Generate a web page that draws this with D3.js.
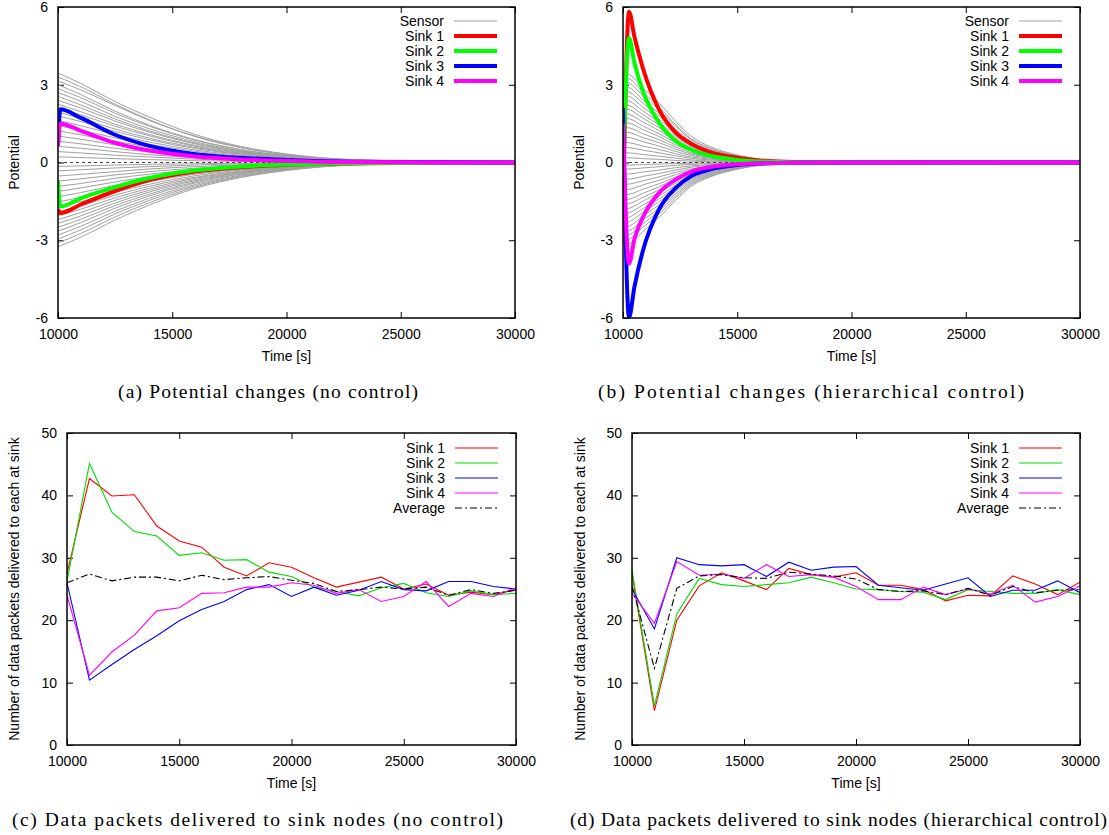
<!DOCTYPE html>
<html>
<head>
<meta charset="utf-8">
<title>Potential and packets</title>
<style>
  body { margin: 0; background: #fff; }
  svg { display: block; }
  text { font-family: "Liberation Sans", Arial, sans-serif; font-size: 14px; fill: #000; }
  .caption { font-family: "Liberation Serif", "Times New Roman", serif; font-size: 19.5px; }
</style>
</head>
<body>
<div id="chart"></div>
<script src="https://d3js.org/d3.v7.min.js"></script>
<script>
// ---- data ----
const sinkNames = ["Sink 1", "Sink 2", "Sink 3", "Sink 4"];
const potTicksX = [10000, 15000, 20000, 25000, 30000];
const potTicksY = [-6, -3, 0, 3, 6];
const pktTicksY = [0, 10, 20, 30, 40, 50];

// (a) no control: sensor potentials
const sensorTimesA = [10000, 11000, 12500, 14000, 16000, 18000, 20000, 23000, 30000];
const sensorsA = [
  [3.45, 3.05, 2.35, 1.75, 1.08, 0.62, 0.33, 0.11, 0],
  [3.30, 2.92, 2.25, 1.65, 1.00, 0.57, 0.30, 0.10, 0],
  [3.15, 2.80, 2.20, 1.62, 1.02, 0.59, 0.31, 0.10, 0],
  [3.00, 2.62, 1.98, 1.44, 0.88, 0.50, 0.27, 0.09, 0],
  [2.85, 2.50, 1.90, 1.40, 0.86, 0.49, 0.26, 0.08, 0],
  [2.70, 2.36, 1.78, 1.30, 0.80, 0.45, 0.24, 0.08, 0],
  [2.55, 2.22, 1.68, 1.22, 0.75, 0.43, 0.23, 0.07, 0],
  [2.40, 2.10, 1.60, 1.17, 0.72, 0.41, 0.22, 0.07, 0],
  [2.25, 1.96, 1.48, 1.08, 0.66, 0.38, 0.20, 0.06, 0],
  [2.10, 1.84, 1.40, 1.03, 0.63, 0.36, 0.19, 0.06, 0],
  [1.95, 1.70, 1.29, 0.94, 0.58, 0.33, 0.18, 0.06, 0],
  [1.80, 1.58, 1.20, 0.88, 0.54, 0.31, 0.16, 0.05, 0],
  [1.62, 1.42, 1.08, 0.79, 0.48, 0.28, 0.15, 0.05, 0],
  [1.42, 1.25, 0.95, 0.70, 0.43, 0.24, 0.13, 0.04, 0],
  [1.22, 1.07, 0.82, 0.60, 0.37, 0.21, 0.11, 0.04, 0],
  [1.02, 0.90, 0.68, 0.50, 0.31, 0.17, 0.09, 0.03, 0],
  [0.82, 0.72, 0.55, 0.40, 0.25, 0.14, 0.07, 0.02, 0],
  [0.62, 0.55, 0.42, 0.30, 0.19, 0.11, 0.06, 0.02, 0],
  [0.42, 0.37, 0.28, 0.21, 0.13, 0.07, 0.04, 0.01, 0],
  [0.22, 0.19, 0.15, 0.11, 0.07, 0.04, 0.02, 0.01, 0],
  [-3.25, -2.88, -2.22, -1.64, -1.00, -0.58, -0.31, -0.10, 0],
  [-3.10, -2.74, -2.10, -1.55, -0.95, -0.55, -0.29, -0.09, 0],
  [-2.95, -2.60, -1.98, -1.46, -0.90, -0.52, -0.27, -0.09, 0],
  [-2.80, -2.46, -1.88, -1.38, -0.85, -0.49, -0.26, -0.08, 0],
  [-2.65, -2.32, -1.76, -1.29, -0.79, -0.45, -0.24, -0.08, 0],
  [-2.50, -2.19, -1.66, -1.22, -0.75, -0.43, -0.23, -0.07, 0],
  [-2.35, -2.06, -1.56, -1.14, -0.70, -0.40, -0.21, -0.07, 0],
  [-2.20, -1.93, -1.46, -1.07, -0.66, -0.38, -0.20, -0.06, 0],
  [-2.05, -1.80, -1.36, -1.00, -0.61, -0.35, -0.19, -0.06, 0],
  [-1.90, -1.67, -1.26, -0.92, -0.57, -0.33, -0.17, -0.05, 0],
  [-1.72, -1.51, -1.14, -0.84, -0.51, -0.29, -0.16, -0.05, 0],
  [-1.52, -1.34, -1.01, -0.74, -0.45, -0.26, -0.14, -0.04, 0],
  [-1.32, -1.16, -0.88, -0.64, -0.39, -0.22, -0.12, -0.04, 0],
  [-1.12, -0.98, -0.75, -0.55, -0.34, -0.19, -0.10, -0.03, 0],
  [-0.92, -0.81, -0.61, -0.45, -0.28, -0.16, -0.08, -0.03, 0],
  [-0.72, -0.63, -0.48, -0.35, -0.22, -0.12, -0.07, -0.02, 0],
  [-0.52, -0.46, -0.35, -0.25, -0.16, -0.09, -0.05, -0.02, 0],
  [-0.32, -0.28, -0.21, -0.16, -0.10, -0.05, -0.03, -0.01, 0],
  [-0.15, -0.13, -0.10, -0.07, -0.05, -0.03, -0.01, 0, 0]
];
// (a) sink potentials
const sinkTimesA = [10000, 10100, 11000, 12500, 14000, 16000, 18000, 20000, 23000, 30000];
const sink1A = [-1.80, -1.95, -1.62, -1.10, -0.68, -0.35, -0.18, -0.09, -0.03, 0];
const sink2A = [-0.70, -1.70, -1.38, -0.95, -0.60, -0.30, -0.15, -0.08, -0.02, 0];
const sink3A = [0.65, 2.05, 1.72, 1.07, 0.64, 0.32, 0.18, 0.10, 0.03, 0];
const sink4A = [0.65, 1.50, 1.22, 0.76, 0.46, 0.23, 0.12, 0.06, 0.02, 0];

// (b) hierarchical control: sensor potentials
const sensorTimesB = [10000, 10300, 10850, 11600, 12300, 13000, 13800, 15000, 16000, 17500, 30000];
const sensorsB = [
  [3.45, 3.38, 2.90, 2.28, 1.59, 1.00, 0.62, 0.29, 0.12, 0.03, 0],
  [3.30, 3.22, 2.74, 2.12, 1.46, 0.91, 0.56, 0.26, 0.11, 0.03, 0],
  [3.12, 3.05, 2.60, 2.02, 1.40, 0.87, 0.54, 0.25, 0.10, 0.03, 0],
  [2.95, 2.88, 2.44, 1.88, 1.29, 0.80, 0.49, 0.23, 0.09, 0.03, 0],
  [2.78, 2.71, 2.30, 1.78, 1.22, 0.76, 0.47, 0.22, 0.09, 0.02, 0],
  [2.60, 2.54, 2.15, 1.66, 1.14, 0.71, 0.44, 0.20, 0.08, 0.02, 0],
  [2.42, 2.36, 2.00, 1.55, 1.06, 0.66, 0.41, 0.19, 0.08, 0.02, 0],
  [2.25, 2.19, 1.86, 1.44, 0.99, 0.62, 0.38, 0.18, 0.07, 0.02, 0],
  [2.08, 2.03, 1.72, 1.33, 0.91, 0.57, 0.35, 0.16, 0.07, 0.02, 0],
  [1.90, 1.85, 1.57, 1.22, 0.84, 0.52, 0.32, 0.15, 0.06, 0.02, 0],
  [1.72, 1.68, 1.42, 1.10, 0.76, 0.47, 0.29, 0.14, 0.06, 0.02, 0],
  [1.55, 1.51, 1.28, 0.99, 0.68, 0.43, 0.26, 0.12, 0.05, 0.01, 0],
  [1.36, 1.33, 1.12, 0.87, 0.60, 0.37, 0.23, 0.11, 0.04, 0.01, 0],
  [1.18, 1.15, 0.97, 0.76, 0.52, 0.32, 0.20, 0.09, 0.04, 0.01, 0],
  [0.98, 0.96, 0.81, 0.63, 0.43, 0.27, 0.17, 0.08, 0.03, 0.01, 0],
  [0.78, 0.76, 0.64, 0.50, 0.34, 0.21, 0.13, 0.06, 0.03, 0.01, 0],
  [0.58, 0.57, 0.48, 0.37, 0.26, 0.16, 0.10, 0.05, 0.02, 0, 0],
  [0.38, 0.37, 0.31, 0.24, 0.17, 0.10, 0.06, 0.03, 0.01, 0, 0],
  [0.18, 0.18, 0.15, 0.12, 0.08, 0.05, 0.03, 0.01, 0, 0, 0],
  [-3.20, -3.13, -2.68, -2.10, -1.46, -0.91, -0.56, -0.26, -0.11, -0.03, 0],
  [-3.02, -2.95, -2.52, -1.97, -1.37, -0.85, -0.53, -0.25, -0.10, -0.03, 0],
  [-2.85, -2.78, -2.38, -1.86, -1.29, -0.80, -0.50, -0.23, -0.09, -0.03, 0],
  [-2.68, -2.62, -2.24, -1.75, -1.21, -0.75, -0.47, -0.22, -0.09, -0.02, 0],
  [-2.50, -2.44, -2.08, -1.62, -1.12, -0.70, -0.43, -0.20, -0.08, -0.02, 0],
  [-2.32, -2.27, -1.93, -1.50, -1.04, -0.65, -0.40, -0.19, -0.08, -0.02, 0],
  [-2.15, -2.10, -1.79, -1.39, -0.96, -0.60, -0.37, -0.17, -0.07, -0.02, 0],
  [-1.98, -1.93, -1.65, -1.28, -0.89, -0.55, -0.34, -0.16, -0.06, -0.02, 0],
  [-1.80, -1.76, -1.50, -1.16, -0.80, -0.50, -0.31, -0.14, -0.06, -0.02, 0],
  [-1.62, -1.58, -1.35, -1.05, -0.72, -0.45, -0.28, -0.13, -0.05, -0.01, 0],
  [-1.44, -1.41, -1.20, -0.93, -0.64, -0.40, -0.25, -0.12, -0.05, -0.01, 0],
  [-1.25, -1.22, -1.04, -0.81, -0.56, -0.35, -0.21, -0.10, -0.04, -0.01, 0],
  [-1.05, -1.03, -0.87, -0.68, -0.47, -0.29, -0.18, -0.08, -0.03, -0.01, 0],
  [-0.85, -0.83, -0.71, -0.55, -0.38, -0.24, -0.15, -0.07, -0.03, -0.01, 0],
  [-0.65, -0.64, -0.54, -0.42, -0.29, -0.18, -0.11, -0.05, -0.02, -0.01, 0],
  [-0.45, -0.44, -0.37, -0.29, -0.20, -0.13, -0.08, -0.04, -0.02, 0, 0],
  [-0.25, -0.25, -0.21, -0.16, -0.11, -0.07, -0.04, -0.02, -0.01, 0, 0],
  [-0.10, -0.10, -0.08, -0.06, -0.04, -0.03, -0.02, -0.01, 0, 0, 0]
];
// (b) sink potentials
const sinkTimesB = [10000, 10264, 10500, 10850, 11580, 12320, 13050, 13780, 15000, 16000, 17500, 30000];
const sink1B = [-1.95, 5.82, 4.85, 3.70, 2.04, 1.14, 0.69, 0.41, 0.18, 0.08, 0.02, 0];
const sink2B = [-0.75, 4.80, 3.85, 2.80, 1.53, 0.82, 0.47, 0.27, 0.10, 0.04, 0.01, 0];
const sink3B = [2.10, -5.97, -4.80, -3.47, -1.80, -0.97, -0.49, -0.27, -0.10, -0.04, -0.01, 0];
const sink4B = [1.50, -3.90, -2.95, -2.15, -1.17, -0.65, -0.33, -0.18, -0.07, -0.03, -0.01, 0];

// (c)/(d) packets delivered, sampled every 1000 s
const pktTimes = [10000, 11000, 12000, 13000, 14000, 15000, 16000, 17000, 18000, 19000, 20000,
                  21000, 22000, 23000, 24000, 25000, 26000, 27000, 28000, 29000, 30000];
const sink1C = [27.5, 42.7, 39.9, 40.1, 35.1, 32.7, 31.7, 28.5, 27.1, 29.2, 28.5, 26.8, 25.3, 26.1, 26.9, 25.0, 25.8, 24.0, 24.5, 24.1, 24.9];
const sink2C = [26.2, 45.1, 37.3, 34.2, 33.5, 30.4, 30.8, 29.6, 29.7, 27.7, 27.0, 25.3, 24.6, 23.9, 25.2, 25.9, 24.4, 23.8, 24.7, 24.1, 24.3];
const sink3C = [26.0, 10.4, 12.9, 15.3, 17.5, 19.9, 21.7, 23.0, 24.9, 25.7, 23.8, 25.3, 24.0, 24.8, 26.2, 24.9, 24.7, 26.2, 26.2, 25.4, 25.0];
const sink4C = [24.0, 11.2, 14.9, 17.6, 21.5, 22.0, 24.3, 24.4, 25.3, 25.3, 26.0, 25.6, 24.3, 24.9, 23.0, 23.8, 26.2, 22.2, 24.3, 23.8, 25.2];
const avgC   = [26.0, 27.4, 26.3, 26.9, 26.9, 26.3, 27.2, 26.5, 26.8, 27.0, 26.4, 25.9, 24.6, 24.9, 25.3, 25.0, 25.3, 24.0, 24.9, 24.3, 24.8];

const sink1D = [27.5, 5.5, 20.0, 25.5, 27.6, 26.3, 24.9, 28.3, 27.3, 26.9, 27.6, 25.6, 25.6, 24.9, 23.1, 24.0, 23.9, 27.1, 25.8, 24.1, 26.1];
const sink2D = [28.0, 6.3, 21.0, 26.7, 25.7, 25.4, 25.7, 26.0, 26.9, 26.0, 25.0, 24.9, 24.6, 24.5, 23.3, 24.9, 24.6, 24.3, 24.3, 24.9, 24.1];
const sink3D = [25.0, 18.6, 30.0, 28.9, 28.7, 28.9, 27.0, 29.3, 28.0, 28.5, 28.6, 25.6, 25.2, 24.8, 25.8, 26.8, 23.8, 24.8, 24.8, 26.3, 24.4];
const sink4D = [24.3, 19.5, 29.4, 27.2, 27.4, 26.7, 28.9, 27.0, 27.3, 26.9, 25.4, 23.3, 23.3, 25.3, 24.1, 25.0, 24.2, 25.6, 22.9, 23.8, 25.5];
const avgD   = [25.5, 12.3, 25.1, 27.1, 27.3, 26.8, 26.7, 27.7, 27.4, 27.1, 26.6, 24.9, 24.6, 24.7, 24.1, 25.1, 24.0, 25.4, 24.4, 24.8, 24.9];

// ---- drawing ----
const sinkColThick = ["#ff0000", "#00ff00", "#0000ff", "#ff00ff"];
const sinkColThin = ["#ff0000", "#00dd00", "#0000ff", "#ff00ff"];
const sensorCol = "#a0a0a0";

const svg = d3.select("#chart").append("svg")
  .attr("width", 1109)
  .attr("height", 835);

let clipId = 0;

function panel(box, yDomain, yTicks, yLabel, caption) {
  const x = d3.scaleLinear().domain([10000, 30000]).range([box.left, box.right]);
  const y = d3.scaleLinear().domain(yDomain).range([box.bottom, box.top]);
  const g = svg.append("g");

  const id = "clip" + (clipId++);
  svg.append("clipPath").attr("id", id).append("rect")
    .attr("x", box.left).attr("y", box.top)
    .attr("width", box.right - box.left).attr("height", box.bottom - box.top);

  // inward ticks on all four sides, gnuplot style
  const fmt = d => String(d);
  g.append("g").attr("transform", `translate(0,${box.bottom})`)
    .call(d3.axisBottom(x).tickValues(potTicksX).tickSizeInner(-6).tickSizeOuter(0).tickPadding(11).tickFormat(fmt));
  g.append("g").attr("transform", `translate(0,${box.top})`)
    .call(d3.axisTop(x).tickValues(potTicksX).tickSizeInner(-6).tickSizeOuter(0).tickFormat(""));
  g.append("g").attr("transform", `translate(${box.left},0)`)
    .call(d3.axisLeft(y).tickValues(yTicks).tickSizeInner(-6).tickSizeOuter(0).tickPadding(10).tickFormat(fmt));
  g.append("g").attr("transform", `translate(${box.right},0)`)
    .call(d3.axisRight(y).tickValues(yTicks).tickSizeInner(-6).tickSizeOuter(0).tickFormat(""));
  g.selectAll(".domain").remove();
  g.selectAll(".tick line").attr("stroke", "#000").attr("stroke-width", 1);
  g.selectAll(".tick text").attr("font-size", 14).attr("font-family", "Liberation Sans, Arial, sans-serif").attr("fill", "#000");

  const plot = svg.append("g").attr("clip-path", `url(#${id})`);

  // border on top of everything
  const border = svg.append("g");
  border.append("rect")
    .attr("x", box.left).attr("y", box.top)
    .attr("width", box.right - box.left).attr("height", box.bottom - box.top)
    .attr("fill", "none").attr("stroke", "#000").attr("stroke-width", 1.5);

  svg.append("text")
    .attr("x", (box.left + box.right) / 2).attr("y", box.bottom + 43)
    .attr("text-anchor", "middle").text("Time [s]");
  svg.append("text")
    .attr("transform", `translate(${box.ylabelX},${(box.top + box.bottom) / 2}) rotate(-90)`)
    .attr("text-anchor", "middle").attr("dominant-baseline", "central").text(yLabel);
  svg.append("text").attr("class", "caption")
    .attr("x", box.capX0).attr("y", box.capY)
    .attr("textLength", box.capX1 - box.capX0).attr("lengthAdjust", "spacing")
    .text(caption);

  return { x, y, plot, legend: svg.append("g") };
}

function legend(p, box, items, dy0) {
  items.forEach((it, i) => {
    const yy = box.top + dy0 + i * 15;
    p.legend.append("text")
      .attr("x", box.right - 71).attr("y", yy)
      .attr("text-anchor", "end").attr("dominant-baseline", "central")
      .text(it.name);
    p.legend.append("line")
      .attr("x1", box.right - 61).attr("x2", box.right - 18)
      .attr("y1", yy).attr("y2", yy)
      .attr("stroke", it.color).attr("stroke-width", it.width)
      .attr("stroke-dasharray", it.dash || null);
  });
}

function potentialPanel(box, caption, sensorTimes, sensors, sinkTimes, sinks) {
  const p = panel(box, [-6, 6], potTicksY, "Potential", caption);
  const line = d3.line().x(d => p.x(d[0])).y(d => p.y(d[1])).curve(d3.curveMonotoneX);

  p.plot.selectAll(".sensor").data(sensors).enter().append("path")
    .attr("d", s => line(sensorTimes.map((t, i) => [t, s[i]])))
    .attr("fill", "none").attr("stroke", sensorCol).attr("stroke-width", 1);

  // zero axis
  p.plot.append("line")
    .attr("x1", box.left).attr("x2", box.right)
    .attr("y1", p.y(0)).attr("y2", p.y(0))
    .attr("stroke", "#444").attr("stroke-width", 1).attr("stroke-dasharray", "3,3");

  sinks.forEach((s, k) => {
    p.plot.append("path")
      .attr("d", line(sinkTimes.map((t, i) => [t, s[i]])))
      .attr("fill", "none").attr("stroke", sinkColThick[k]).attr("stroke-width", 4)
      .attr("stroke-linejoin", "round");
  });

  legend(p, box, [{ name: "Sensor", color: sensorCol, width: 1 }]
    .concat(sinkNames.map((n, k) => ({ name: n, color: sinkColThick[k], width: 4 }))), 14);
}

function packetPanel(box, caption, sinks, avg) {
  const p = panel(box, [0, 50], pktTicksY, "Number of data packets delivered to each at sink", caption);
  const line = d3.line().x(d => p.x(d[0])).y(d => p.y(d[1]));

  sinks.forEach((s, k) => {
    p.plot.append("path")
      .attr("d", line(pktTimes.map((t, i) => [t, s[i]])))
      .attr("fill", "none").attr("stroke", sinkColThin[k]).attr("stroke-width", 1.1);
  });
  p.plot.append("path")
    .attr("d", line(pktTimes.map((t, i) => [t, avg[i]])))
    .attr("fill", "none").attr("stroke", "#000").attr("stroke-width", 1.1)
    .attr("stroke-dasharray", "7,3,2,3");

  legend(p, box, sinkNames.map((n, k) => ({ name: n, color: sinkColThin[k], width: 1.1 }))
    .concat([{ name: "Average", color: "#000", width: 1.1, dash: "7,3,2,3" }]), 15);
}

potentialPanel({ left: 58, right: 515, top: 7, bottom: 318, ylabelX: 14, capX0: 118, capX1: 418, capY: 398 },
  "(a) Potential changes (no control)", sensorTimesA, sensorsA, sinkTimesA, [sink1A, sink2A, sink3A, sink4A]);
potentialPanel({ left: 623, right: 1080, top: 7, bottom: 318, ylabelX: 579, capX0: 598, capX1: 1024, capY: 398 },
  "(b) Potential changes (hierarchical control)", sensorTimesB, sensorsB, sinkTimesB, [sink1B, sink2B, sink3B, sink4B]);
packetPanel({ left: 67, right: 516, top: 433, bottom: 745, ylabelX: 14, capX0: 12, capX1: 503, capY: 826 },
  "(c) Data packets delivered to sink nodes (no control)", [sink1C, sink2C, sink3C, sink4C], avgC);
packetPanel({ left: 632, right: 1080, top: 433, bottom: 745, ylabelX: 580, capX0: 570, capX1: 1107, capY: 826 },
  "(d) Data packets delivered to sink nodes (hierarchical control)", [sink1D, sink2D, sink3D, sink4D], avgD);
</script>
</body>
</html>
